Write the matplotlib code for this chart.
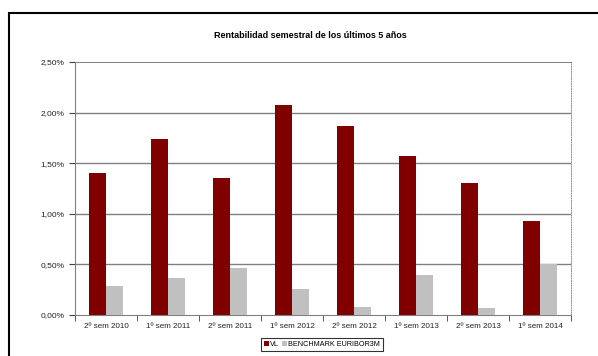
import numpy as np
import matplotlib.pyplot as plt
from matplotlib.ticker import MultipleLocator, FuncFormatter
from matplotlib.patches import Rectangle

plt.rcParams["font.family"] = ["Liberation Sans", "DejaVu Sans"]

categories = ["2º sem 2010", "1º sem 2011", "2º sem 2011", "1º sem 2012",
              "2º sem 2012", "1º sem 2013", "2º sem 2013", "1º sem 2014"]
vl = [1.40, 1.74, 1.35, 2.08, 1.87, 1.57, 1.30, 0.93]
benchmark = [0.29, 0.37, 0.46, 0.26, 0.08, 0.40, 0.07, 0.50]

fig = plt.figure(figsize=(5.98, 3.56), dpi=100)
ax = fig.add_axes([75 / 598, 1 - 315 / 356, (571 - 75) / 598, (315 - 62) / 356])

# outer chart frame (clipped on right and bottom like the source)
fig.patches.append(Rectangle((9 / 598, -0.1), 1.2, 1 - 13 / 356 + 0.1,
                             transform=fig.transFigure, fill=False,
                             edgecolor="black", linewidth=1.5))

x = np.arange(len(categories))
w = 0.28
ax.bar(x - w / 2, vl, w, color="#800000", label="VL", zorder=3)
ax.bar(x + w / 2, benchmark, w, color="#c0c0c0", label="BENCHMARK EURIBOR3M", zorder=3)

ax.set_xlim(-0.5, len(categories) - 0.5)
ax.set_ylim(0, 2.5)
ax.yaxis.set_major_locator(MultipleLocator(0.5))
ax.yaxis.set_major_formatter(FuncFormatter(lambda v, p: f"{v:.2f}%".replace(".", ",")))
ax.set_xticks(x)
ax.set_xticklabels(categories)
ax.set_xticks(np.arange(-0.5, len(categories)), minor=True)
ax.tick_params(axis="x", which="major", length=0, labelsize=5.8, pad=6, colors="#222222")
ax.tick_params(axis="x", which="minor", length=4, color="#404040", direction="out")
ax.tick_params(axis="y", length=4, color="#404040", labelsize=6, colors="#222222")

for v in [0.5, 1.0, 1.5, 2.0]:
    ax.axhline(v, color="#808080", linewidth=1, zorder=1)

ax.spines["left"].set_color("#808080")
ax.spines["bottom"].set_color("#808080")
ax.spines["top"].set_color("#808080")
ax.spines["top"].set_linestyle((0, (2, 1)))
ax.spines["top"].set_linewidth(0.7)
ax.spines["right"].set_color("#909090")
ax.spines["right"].set_linestyle((0, (1, 1.5)))
ax.spines["right"].set_linewidth(0.7)

fig.text(310 / 598, 1 - 36 / 356, "Rentabilidad semestral de los últimos 5 años",
         ha="center", va="center", fontsize=6.5, fontweight="bold")

leg = fig.legend(loc="center", bbox_to_anchor=(322 / 598, 1 - 344.5 / 356), ncol=2,
                 fontsize=5.2, frameon=True, fancybox=False, handlelength=0.7,
                 handleheight=0.7, handletextpad=0.2, columnspacing=0.4,
                 borderpad=0.4, borderaxespad=0)
leg.get_frame().set_edgecolor("black")
leg.get_frame().set_linewidth(0.8)

fig.savefig("out.png", dpi=100)
